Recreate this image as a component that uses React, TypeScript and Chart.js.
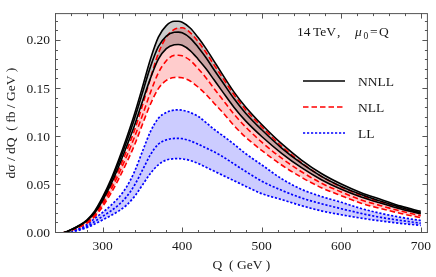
import React, { useEffect, useRef } from "react";
import { Chart, registerables } from "chart.js";

Chart.register(...registerables);

// Q grid (GeV)
const Q = [250, 255, 260, 270, 280, 290, 300, 310, 320, 330, 340, 350, 360, 370, 380, 390, 395, 400, 410, 420, 430, 440, 450, 465, 480, 500, 525, 550, 575, 600, 625, 650, 675, 700];

// dσ/dQ (fb/GeV)
const NNLL_UP = [0, 0.0015, 0.0035, 0.0078, 0.0135, 0.023, 0.0375, 0.055, 0.076, 0.099, 0.124, 0.152, 0.181, 0.204, 0.216, 0.2205, 0.2205, 0.2195, 0.2135, 0.2035, 0.192, 0.179, 0.166, 0.147, 0.131, 0.113, 0.093, 0.076, 0.062, 0.051, 0.042, 0.035, 0.028, 0.0225];
const NNLL_MID = [0, 0.0014, 0.0033, 0.0075, 0.013, 0.022, 0.036, 0.053, 0.073, 0.095, 0.119, 0.146, 0.173, 0.194, 0.205, 0.209, 0.2092, 0.2085, 0.203, 0.1935, 0.1825, 0.17, 0.158, 0.14, 0.1245, 0.1075, 0.0885, 0.0725, 0.059, 0.0485, 0.04, 0.033, 0.0265, 0.021];
const NNLL_LO = [0, 0.0013, 0.0031, 0.0071, 0.0125, 0.021, 0.034, 0.05, 0.069, 0.09, 0.112, 0.137, 0.161, 0.181, 0.192, 0.196, 0.1963, 0.1955, 0.19, 0.181, 0.171, 0.1595, 0.148, 0.131, 0.1165, 0.1005, 0.083, 0.068, 0.0555, 0.0455, 0.0375, 0.031, 0.025, 0.02];

const NLL_UP = [0, 0.00126, 0.003, 0.00675, 0.0117, 0.0198, 0.0324, 0.0477, 0.0657, 0.0855, 0.1071, 0.1329, 0.1609, 0.1872, 0.204, 0.2121, 0.2134, 0.2137, 0.2087, 0.1993, 0.188, 0.1751, 0.1627, 0.1442, 0.1282, 0.1107, 0.0903, 0.0732, 0.059, 0.048, 0.0392, 0.0322, 0.0257, 0.0203];
const NLL_MID = [0, 0.00118, 0.0028, 0.0063, 0.0109, 0.0185, 0.0302, 0.0445, 0.0613, 0.0798, 0.1, 0.1227, 0.1462, 0.1668, 0.1794, 0.185, 0.1851, 0.1845, 0.1797, 0.1712, 0.1615, 0.1505, 0.1398, 0.1239, 0.1102, 0.0946, 0.0779, 0.0638, 0.0519, 0.0427, 0.0344, 0.0284, 0.0228, 0.0181];
const NLL_LO = [0, 0.00108, 0.0025, 0.0058, 0.01, 0.0169, 0.0277, 0.0408, 0.0562, 0.0732, 0.0916, 0.1132, 0.1341, 0.1504, 0.1589, 0.162, 0.1621, 0.1616, 0.1583, 0.1519, 0.1442, 0.1352, 0.1264, 0.112, 0.0996, 0.086, 0.0708, 0.058, 0.0472, 0.0388, 0.031, 0.0254, 0.0203, 0.016];

const LL_UP = [0, 0.0008, 0.0018, 0.0045, 0.0085, 0.0152, 0.0215, 0.0285, 0.0368, 0.048, 0.064, 0.085, 0.1055, 0.1195, 0.1255, 0.128, 0.1282, 0.1278, 0.1255, 0.1215, 0.115, 0.108, 0.102, 0.0925, 0.0825, 0.071, 0.0565, 0.0455, 0.038, 0.032, 0.0255, 0.0204, 0.0163, 0.013];
const LL_MID = [0, 0.0006, 0.0014, 0.0036, 0.0068, 0.0121, 0.0174, 0.0228, 0.0292, 0.0378, 0.0498, 0.0655, 0.0815, 0.0925, 0.097, 0.0985, 0.0986, 0.0982, 0.096, 0.0925, 0.0885, 0.0845, 0.08, 0.072, 0.064, 0.054, 0.0445, 0.0365, 0.0305, 0.0253, 0.0204, 0.0162, 0.013, 0.0102];
const LL_LO = [0, 0.0005, 0.0011, 0.0028, 0.0055, 0.0094, 0.0137, 0.018, 0.0228, 0.029, 0.038, 0.05, 0.062, 0.071, 0.076, 0.0773, 0.0775, 0.0772, 0.0755, 0.0725, 0.0685, 0.0645, 0.0605, 0.0545, 0.0485, 0.041, 0.0348, 0.0285, 0.023, 0.019, 0.0155, 0.0125, 0.01, 0.008];

// Axes / ticks
const X_TICKS = [300, 400, 500, 600, 700];
const X_MINOR = [240, 260, 280, 320, 340, 360, 380, 420, 440, 460, 480, 520, 540, 560, 580, 620, 640, 660, 680, 700];
const Y_TICKS = [0, 0.05, 0.1, 0.15, 0.2];
const Y_MINOR = [0.01, 0.02, 0.03, 0.04, 0.06, 0.07, 0.08, 0.09, 0.11, 0.12, 0.13, 0.14, 0.16, 0.17, 0.18, 0.19, 0.21, 0.22];
const X_RANGE = [240, 709];
const Y_RANGE = [0, 0.229];

const LEGEND = ["NNLL", "NLL", "LL"];
const X_TITLE = "Q  ( GeV )";
const Y_TITLE = "dσ / dQ  ( fb / GeV )";

const FONT = "'Liberation Serif', 'DejaVu Serif', serif";
const TXT = "#1a1a1a";
const FRAME = "#555";

const STYLES = [
  { color: "#000000", dash: [] as number[], width: 1.6 },
  { color: "#ff0000", dash: [5.5, 3], width: 1.6 },
  { color: "#0000ff", dash: [2.2, 1.8], width: 1.7 },
];

const decorations = {
  id: "decorations",
  afterDraw(chart: any) {
    const { ctx, chartArea: a, scales } = chart;
    const xs = scales.x, ys = scales.y;
    ctx.save();
    // frame
    ctx.strokeStyle = FRAME;
    ctx.lineWidth = 1;
    ctx.strokeRect(a.left + 0.5, a.top + 0.5, a.right - a.left - 1, a.bottom - a.top - 1);
    const tick = (x1: number, y1: number, x2: number, y2: number) => {
      ctx.beginPath();
      ctx.moveTo(x1, y1);
      ctx.lineTo(x2, y2);
      ctx.stroke();
    };
    const xt = (v: number, len: number) => {
      const px = Math.round(xs.getPixelForValue(v)) + 0.5;
      tick(px, a.bottom, px, a.bottom - len);
      tick(px, a.top, px, a.top + len);
    };
    const yt = (v: number, len: number) => {
      const py = Math.round(ys.getPixelForValue(v)) - 0.5;
      tick(a.left, py, a.left + len, py);
      tick(a.right, py, a.right - len, py);
    };
    X_TICKS.forEach((v) => xt(v, 5.5));
    X_MINOR.forEach((v) => xt(v, 3));
    Y_TICKS.forEach((v) => yt(v, 5.5));
    Y_MINOR.forEach((v) => yt(v, 3));

    // titles
    ctx.fillStyle = TXT;
    ctx.font = `13.5px ${FONT}`;
    ctx.textAlign = "center";
    ctx.textBaseline = "middle";
    ctx.fillText(X_TITLE, (a.left + a.right) / 2, 265);
    ctx.save();
    ctx.translate(11, (a.top + a.bottom) / 2);
    ctx.rotate(-Math.PI / 2);
    ctx.fillText(Y_TITLE, 0, 0);
    ctx.restore();

    // energy annotation: "14 TeV ,  μ0 =Q"
    ctx.textAlign = "left";
    ctx.textBaseline = "alphabetic";
    const base = 36;
    ctx.font = `13.5px ${FONT}`;
    ctx.fillText("14", 297, base);
    ctx.fillText("TeV", 313, base);
    ctx.fillText(",", 337, base);
    ctx.font = `italic 13.5px ${FONT}`;
    ctx.fillText("μ", 355, base);
    ctx.font = `9.5px ${FONT}`;
    ctx.fillText("0", 363.5, base + 2.5);
    ctx.font = `13.5px ${FONT}`;
    ctx.fillText("=", 370, base);
    ctx.fillText("Q", 379, base);

    // legend
    const ly = [81, 107, 133];
    LEGEND.forEach((name, i) => {
      const s = STYLES[i];
      ctx.strokeStyle = s.color;
      ctx.lineWidth = s.width;
      ctx.setLineDash(s.dash);
      ctx.beginPath();
      ctx.moveTo(303, ly[i]);
      ctx.lineTo(345, ly[i]);
      ctx.stroke();
      ctx.setLineDash([]);
      ctx.fillStyle = TXT;
      ctx.font = `13.5px ${FONT}`;
      ctx.textBaseline = "middle";
      ctx.fillText(name, 358, ly[i] + 1);
    });
    ctx.restore();
  },
};

export default function App() {
  const ref = useRef<HTMLCanvasElement>(null);
  useEffect(() => {
    document.body.style.margin = "0";
    const canvas = ref.current!;
    const pts = (arr: number[]) => Q.map((q, i) => ({ x: q, y: arr[i] }));
    const ds = (label: string, arr: number[], s: number, fill: any = false, bg = "transparent") => ({
      label,
      data: pts(arr),
      borderColor: STYLES[s].color,
      borderWidth: STYLES[s].width,
      borderDash: STYLES[s].dash,
      pointRadius: 0,
      fill,
      backgroundColor: bg,
      cubicInterpolationMode: "monotone" as const,
    });
    const chart = new Chart(canvas, {
      type: "line",
      data: {
        datasets: [
          ds("NNLL up", NNLL_UP, 0, { target: 2 }, "rgba(0,0,0,0.2)"),
          ds("NNLL", NNLL_MID, 0),
          ds("NNLL lo", NNLL_LO, 0),
          ds("NLL up", NLL_UP, 1, { target: 5 }, "rgba(255,0,0,0.2)"),
          ds("NLL", NLL_MID, 1),
          ds("NLL lo", NLL_LO, 1),
          ds("LL up", LL_UP, 2, { target: 8 }, "rgba(0,0,255,0.2)"),
          ds("LL", LL_MID, 2),
          ds("LL lo", LL_LO, 2),
        ],
      },
      options: {
        animation: false,
        responsive: false,
        events: [],
        layout: { padding: { left: 0, top: 1, right: 6, bottom: 0 } },
        plugins: {
          legend: { display: false },
          tooltip: { enabled: false },
          filler: { drawTime: "beforeDatasetsDraw" } as any,
        },
        scales: {
          x: {
            type: "linear",
            min: X_RANGE[0],
            max: X_RANGE[1],
            grid: { display: false, drawTicks: false },
            border: { display: false },
            ticks: { padding: 5, autoSkip: false, maxRotation: 0, color: TXT, font: { family: FONT, size: 13.5 } },
            afterBuildTicks: (s: any) => {
              s.ticks = X_TICKS.map((v) => ({ value: v }));
            },
            afterFit: (s: any) => {
              s.height = 44;
            },
          },
          y: {
            type: "linear",
            min: Y_RANGE[0],
            max: Y_RANGE[1],
            grid: { display: false, drawTicks: false },
            border: { display: false },
            ticks: {
              padding: 5,
              autoSkip: false,
              color: TXT,
              font: { family: FONT, size: 13.5 },
              callback: (v: any) => Number(v).toFixed(2),
            },
            afterBuildTicks: (s: any) => {
              s.ticks = Y_TICKS.map((v) => ({ value: v }));
            },
            afterFit: (s: any) => {
              s.width = 55;
            },
          },
        },
      },
      plugins: [decorations],
    });
    return () => chart.destroy();
  }, []);
  return (
    <div style={{ position: "absolute", left: 0, top: 0, width: 436, height: 277, background: "#fff" }}>
      <canvas ref={ref} width={436} height={277} style={{ display: "block" }} />
    </div>
  );
}
